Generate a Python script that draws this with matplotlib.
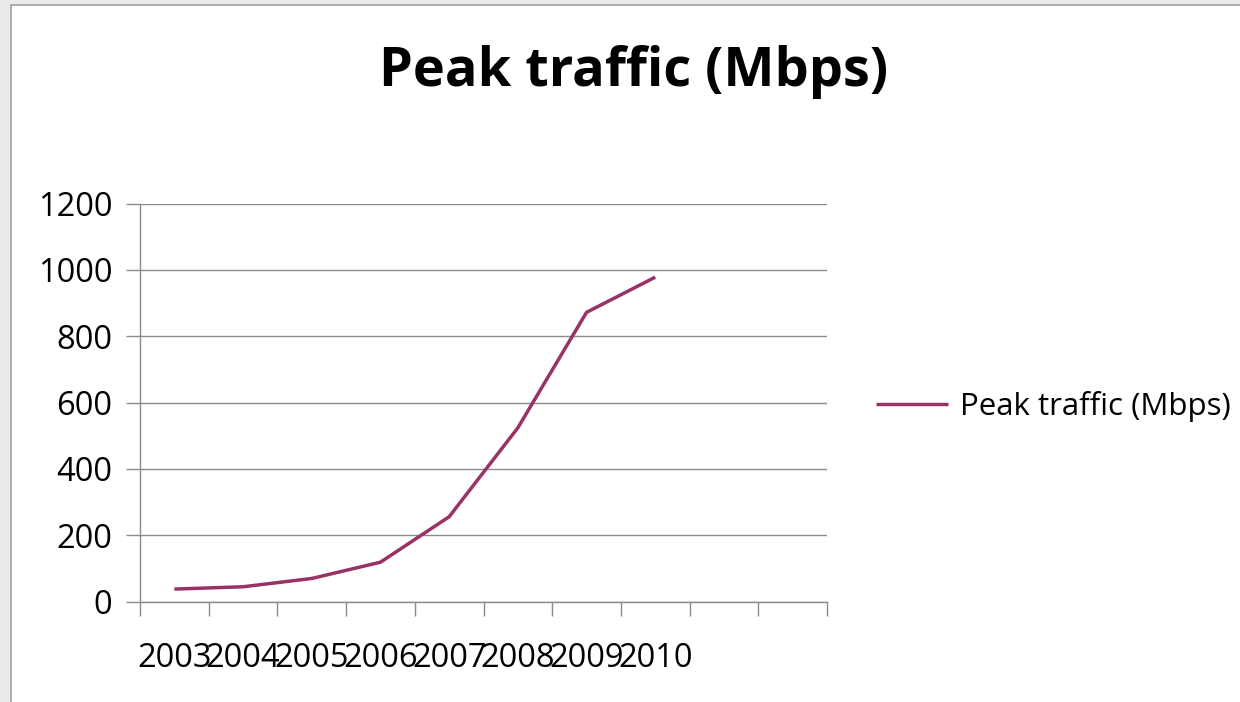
import matplotlib
matplotlib.use("Agg")
import matplotlib.pyplot as plt
from matplotlib.patches import Rectangle

# data #

years = ["2003", "2004", "2005", "2006", "2007", "2008", "2009", "2010"]
peak_mbps = [38, 45, 70, 119, 256, 524, 872, 978]
n_slots = 10  # category axis has two empty slots after 2010
y_ticks = [0, 200, 400, 600, 800, 1000, 1200]

plt.rcParams['font.family'] = ['Open Sans', 'DejaVu Sans']

W, H = 1240, 702
fig = plt.figure(figsize=(W / 100, H / 100), dpi=100, facecolor='#ebebeb')

# white chart sheet with thin grey border
fig.patches.append(Rectangle((11 / W, -0.01), 1.0, 1 - 5 / H + 0.01,
                             transform=fig.transFigure, facecolor='white',
                             edgecolor='#a0a0a0', linewidth=1.2, zorder=-5))

ax = fig.add_axes([140 / W, 1 - 601.7 / H, (827 - 140) / W, (601.7 - 203.5) / H])
ax.set_facecolor('none')

xs = [i + 0.5 for i in range(len(years))]
line, = ax.plot(xs, peak_mbps, color='#993366', linewidth=2.5,
                solid_capstyle='butt', label='Peak traffic (Mbps)', zorder=3)

ax.set_xlim(0, n_slots)
ax.set_ylim(0, 1200)
ax.set_yticks(y_ticks)
ax.set_yticklabels([str(v) for v in y_ticks])
ax.set_xticks(range(n_slots + 1))
ax.set_xticklabels([])
ax.set_xticks(xs, minor=True)
ax.set_xticklabels(years, minor=True)

grid_c = '#8c8c8c'
ax.yaxis.grid(True, color=grid_c, linewidth=1.0)
ax.set_axisbelow(True)
for s in ['top', 'right']:
    ax.spines[s].set_visible(False)
for s in ['left', 'bottom']:
    ax.spines[s].set_color(grid_c)
    ax.spines[s].set_linewidth(1.0)

ax.tick_params(axis='y', which='major', length=10, width=1.0, color=grid_c,
               labelsize=23.5, pad=10)
ax.tick_params(axis='x', which='major', length=10, width=1.0, color=grid_c,
               direction='out')
ax.tick_params(axis='x', which='minor', length=0, labelsize=23.5, pad=29)

fig.text(634 / W, 1 - 72 / H, 'Peak traffic (Mbps)', ha='center', va='center',
         fontsize=39, fontweight='bold')

fig.legend(handles=[line], loc='center left', bbox_to_anchor=(876 / W, 1 - 406 / H),
           frameon=False, fontsize=22.5, handlelength=2.3, handletextpad=0.4,
           borderpad=0, borderaxespad=0)

fig.savefig('out.png', dpi=100, facecolor=fig.get_facecolor())
